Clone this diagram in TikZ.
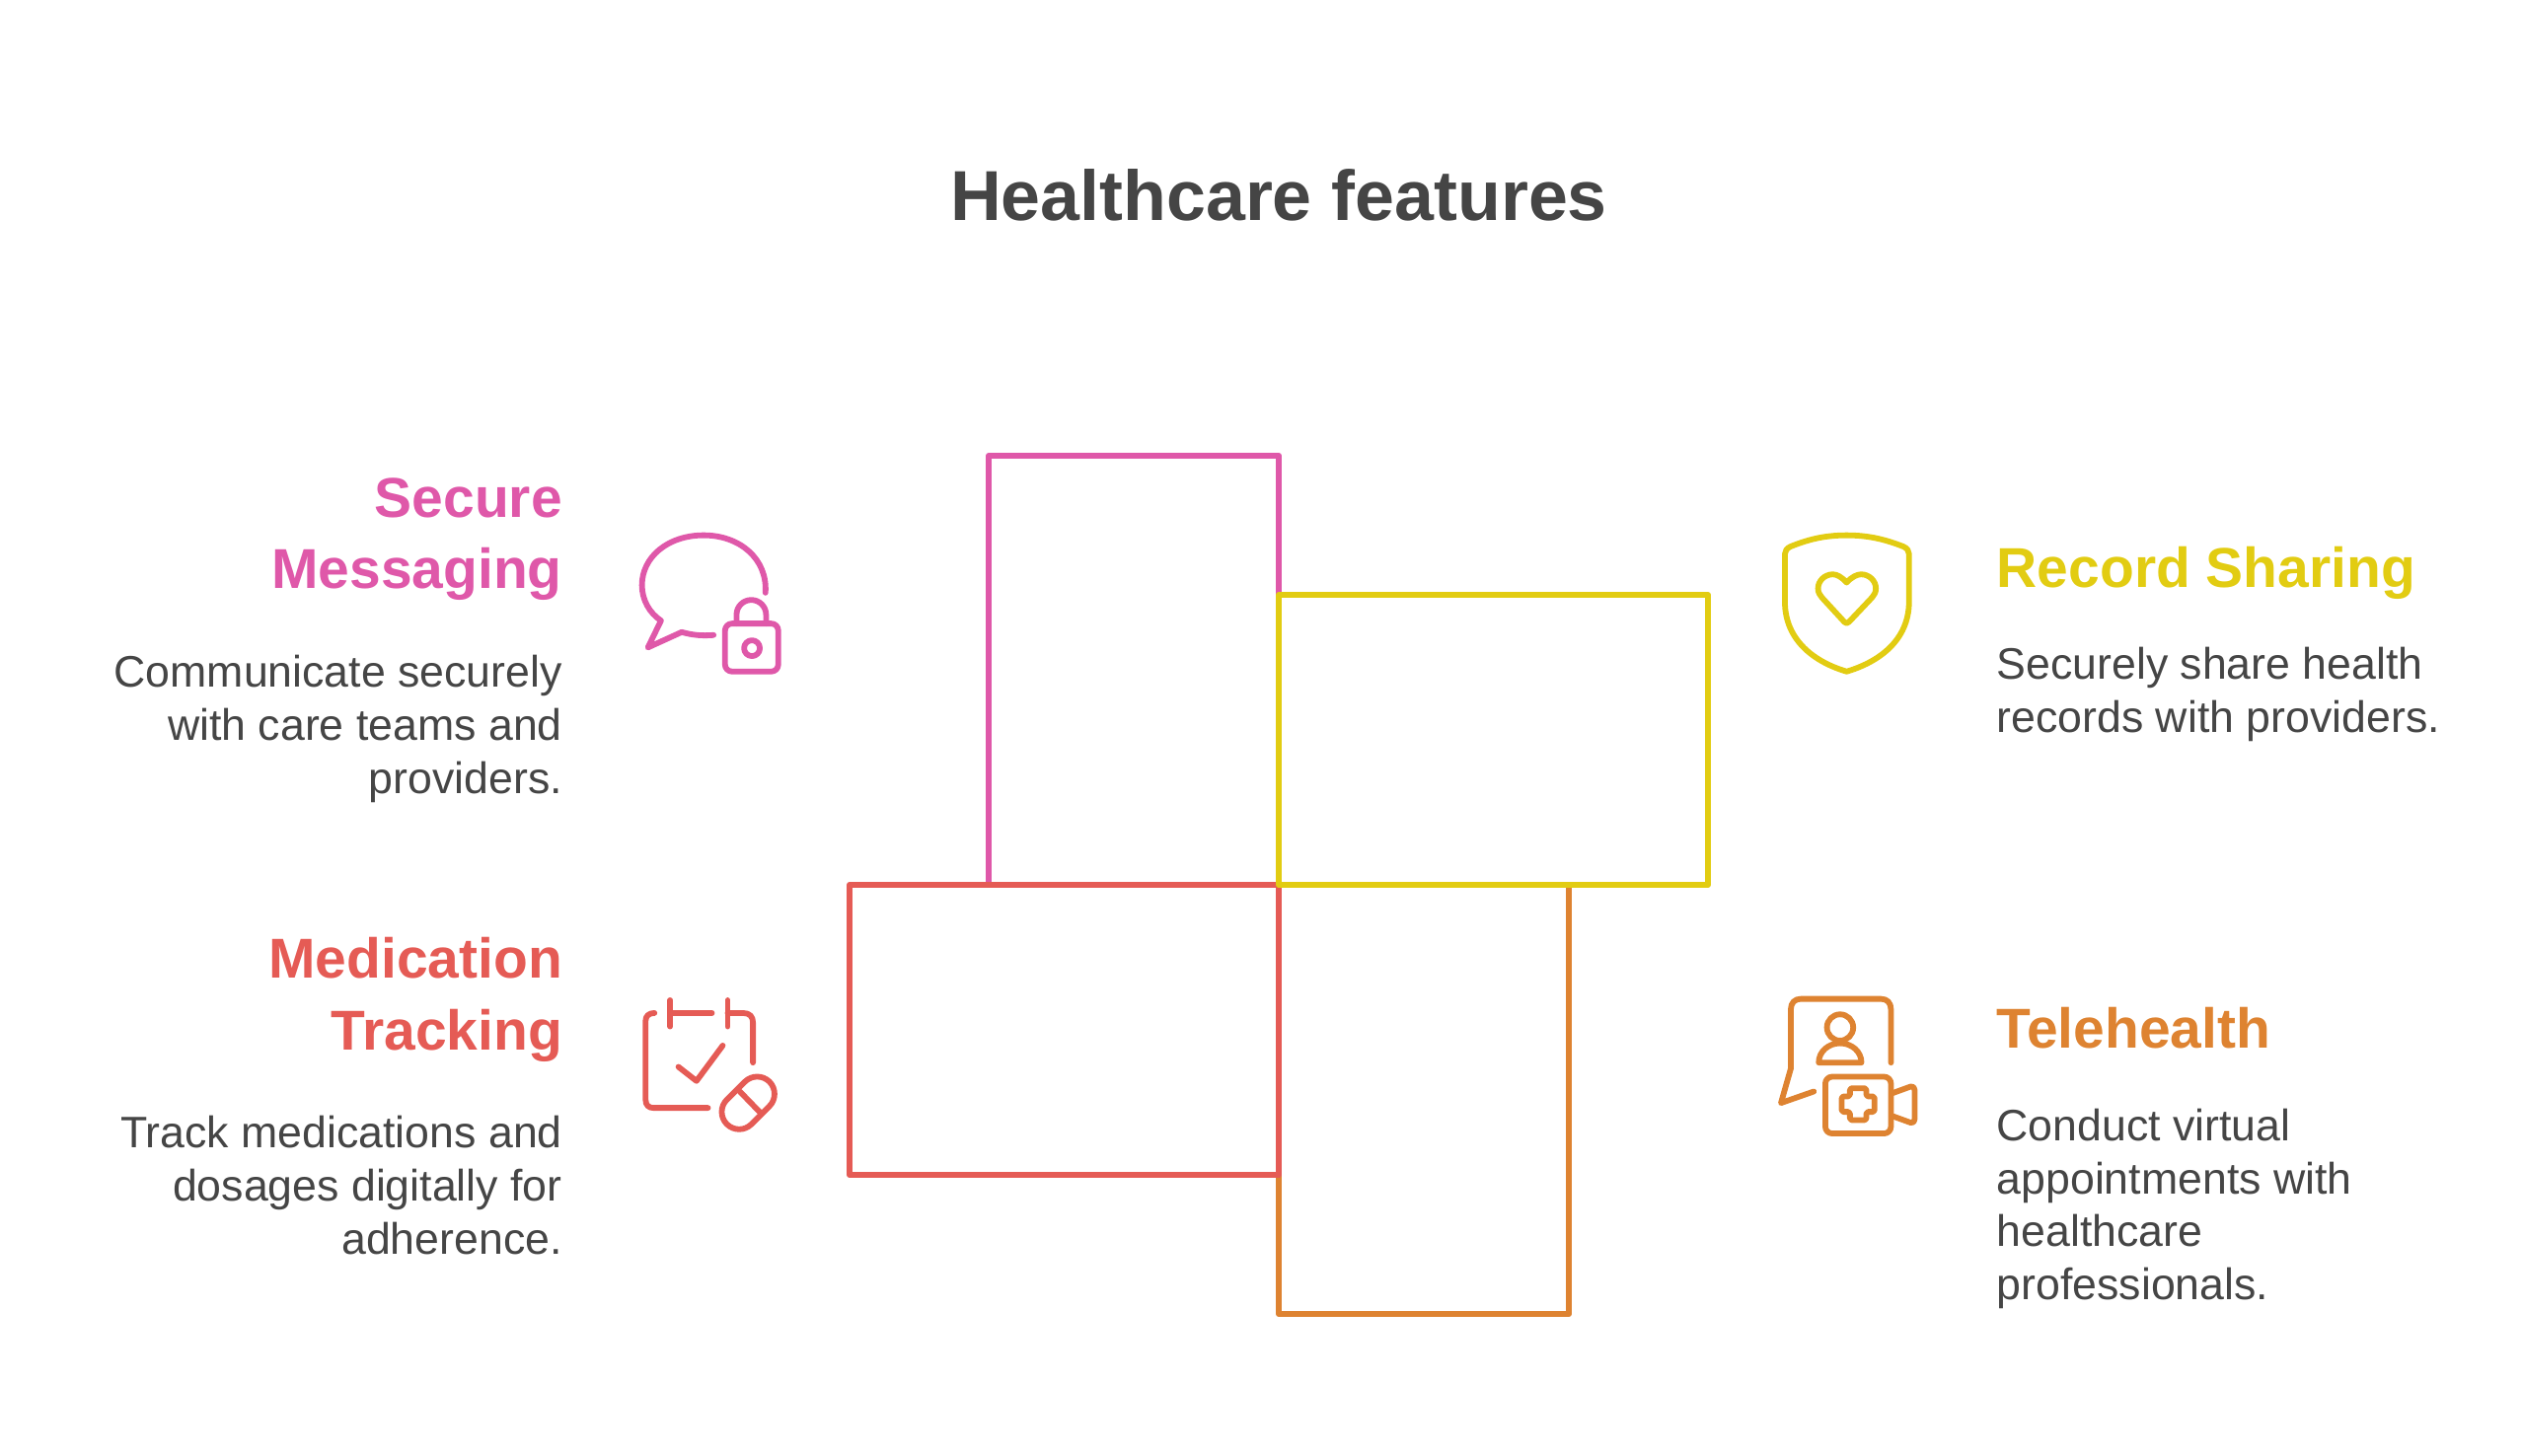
\documentclass[tikz,border=0pt]{standalone}
\usepackage{fontspec}
\setmainfont{Liberation Sans}
\usetikzlibrary{positioning}

\definecolor{pinkline}{HTML}{DF58A9}
\definecolor{yellowline}{HTML}{E2CC12}
\definecolor{redline}{HTML}{E55B55}
\definecolor{orangeline}{HTML}{DE8331}
\definecolor{textgray}{HTML}{454545}

\begin{document}
\begin{tikzpicture}[
            x = 0.01cm, % one unit is one pixel of the reference
            y = -0.01cm,
            line join = round,
            node distance = 0.47cm % heading to body text
        ]

        \tikzstyle{panel}=[
            draw,
            line width = 1.6pt,
            minimum width = 2.94cm,
            minimum height = 4.35cm,
            inner sep = 0pt
        ]
        \tikzstyle{wide}=[
            minimum width = 4.35cm,
            minimum height = 2.94cm
        ]
        \tikzstyle{head}=[
            inner sep = 0pt,
            font = \fontsize{16.2pt}{20.5pt}\selectfont\bfseries
        ]
        \tikzstyle{body}=[
            inner sep = 0pt,
            text = textgray,
            font = \fontsize{12.7pt}{15.3pt}\selectfont
        ]
        \tikzstyle{icon}=[
            x = 0.00333cm,
            y = -0.00333cm,
            line width = 1.65pt,
            line cap = round
        ]

        \useasboundingbox (0,0) rectangle (2556,1476);

        \node[text = textgray, inner sep = 0pt, font = \fontsize{20.4pt}{24pt}\selectfont\bfseries] (title) at (1296,198) {Healthcare features};

        % the four panels, last one on top
        \node[panel, draw = pinkline] (messaging) at (1149,679.5) {};
        \node[panel, draw = orangeline] (telehealth) at (1443,1114.5) {};
        \node[panel, wide, draw = redline] (tracking) at (1078.5,1044) {};
        \node[panel, wide, draw = yellowline] (sharing) at (1513.5,750) {};

        % left column
        \node[head, text = pinkline, align = right, anchor = north east] (msghead) at (570.5,484) {Secure\\Messaging};
        \node[body, align = right, below = 0.54cm of msghead.south east, anchor = north east] (msgbody) {Communicate securely\\with care teams and\\providers.};
        \node[head, text = redline, align = right, anchor = north east] (medhead) at (570.5,950) {Medication\\Tracking};
        \node[body, align = right, below = 0.54cm of medhead.south east, anchor = north east] (medbody) {Track medications and\\dosages digitally for\\adherence.};

        % right column
        \node[head, text = yellowline, align = left, anchor = north west] (rechead) at (2023,554) {Record Sharing};
        \node[body, align = left, below = of rechead.south west, anchor = north west] (recbody) {Securely share health\\records with providers.};
        \node[head, text = orangeline, align = left, anchor = north west] (telhead) at (2023,1021) {Telehealth};
        \node[body, align = left, below = 0.59cm of telhead.south west, anchor = north west] (telbody) {Conduct virtual\\appointments with\\healthcare\\professionals.};

        % speech bubble with padlock
        \begin{scope}[shift = {(620,510)}, icon, draw = pinkline]
            \draw (468,273) .. controls (475,170) and (390,98) .. (280,98) .. controls (170,98) and (92,165) .. (92,250) .. controls (92,295) and (115,335) .. (150,358) -- (110,440) -- (213,393) .. controls (245,402) and (275,405) .. (310,402);
            \draw[rounded corners = 2pt] (345,367) rectangle (507,513);
            \draw (380,367) -- (380,340) arc[start angle = 180, end angle = 360, radius = 45] -- (470,367);
            \draw (427,442) circle[radius = 24];
        \end{scope}

        % calendar with pill
        \begin{scope}[shift = {(630,990)}, icon, draw = redline]
            \draw (100,111) .. controls (83,111) and (73,120) .. (73,135) -- (73,375) .. controls (73,392) and (83,400) .. (97,400) -- (263,400);
            \draw (148,111) -- (275,111);
            \draw (148,72) -- (148,152);
            \draw (323,72) -- (323,152);
            \draw (323,111) -- (370,111) .. controls (390,111) and (400,122) .. (400,140) -- (400,262);
            \draw (173,275) -- (228,318) -- (308,210);
            \draw[rounded corners = 0.176cm] (413,283) -- (487.5,357.5) -- (358,487) -- (283,412) -- cycle;
            \draw (360,350) -- (420,412);
        \end{scope}

        % shield with heart
        \begin{scope}[shift = {(1790,520)}, icon, draw = yellowline]
            \draw (245,68) .. controls (175,68) and (125,82) .. (75,102) .. controls (63,107) and (57,115) .. (57,125) -- (57,270) .. controls (57,390) and (150,455) .. (245,483) .. controls (340,455) and (435,390) .. (435,270) -- (435,125) .. controls (435,115) and (429,107) .. (417,102) .. controls (365,82) and (315,68) .. (245,68) -- cycle;
            \draw (245,212) .. controls (230,195) and (215,187) .. (203,187) .. controls (178,187) and (158,207) .. (158,230) .. controls (158,242) and (163,250) .. (170,258) -- (238,332) .. controls (242,337) and (248,337) .. (252,332) -- (322,258) .. controls (329,250) and (334,242) .. (334,230) .. controls (334,207) and (314,187) .. (289,187) .. controls (277,187) and (260,195) .. (245,212) -- cycle;
        \end{scope}

        % person in bubble with video camera
        \begin{scope}[shift = {(1790,990)}, icon, draw = orangeline]
            \draw (380,262) -- (380,100) .. controls (380,80) and (368,68) .. (350,68) -- (105,68) .. controls (87,68) and (75,80) .. (75,100) -- (75,280) -- (45,385) -- (145,350);
            \draw (225,155) circle[radius = 40];
            \draw (160,262) .. controls (160,228) and (190,203) .. (225,203) .. controls (260,203) and (290,228) .. (290,262) -- cycle;
            \draw[rounded corners = 2pt] (180,305) rectangle (380,478);
            \draw (385,355) -- (440,335) .. controls (447,333) and (452,338) .. (452,345) -- (452,435) .. controls (452,442) and (447,447) .. (440,445) -- (385,425);
            \draw[rounded corners = 0.5pt] (255,340) -- (305,340) -- (305,365) -- (330,365) -- (330,412) -- (305,412) -- (305,437) -- (255,437) -- (255,412) -- (230,412) -- (230,365) -- (255,365) -- cycle;
        \end{scope}

  \end{tikzpicture}
\end{document}
